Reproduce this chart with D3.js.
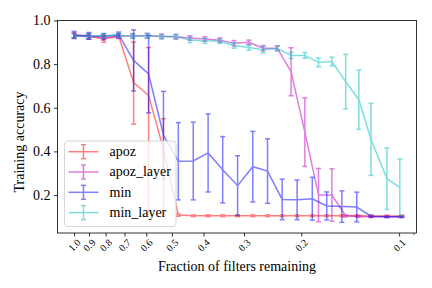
<!DOCTYPE html>
<html>
<head>
<meta charset="utf-8">
<script src="https://cdn.jsdelivr.net/npm/d3@7"></script>
<style>
  body { margin: 0; background: #fff; }
  svg { display: block; font-family: "Liberation Serif", "DejaVu Serif", serif; }
</style>
</head>
<body>
<div id="chart"></div>
<script>
// fraction of filters remaining (x positions)
const fractions = [1.0, 0.9, 0.81, 0.729, 0.656, 0.59, 0.531, 0.478, 0.43, 0.387, 0.349, 0.314,
    0.282, 0.254, 0.229, 0.206, 0.185, 0.167, 0.15, 0.135, 0.122, 0.109, 0.098];
const layerFractions = [1.0, 0.904, 0.813, 0.731, 0.66, 0.596, 0.538, 0.486, 0.44, 0.396, 0.356, 0.322,
    0.29, 0.262, 0.237, 0.215, 0.195, 0.177, 0.161, 0.146, 0.133, 0.122, 0.109, 0.0995];

const apoz = [0.93, 0.928, 0.915, 0.928, 0.715, 0.656, 0.41, 0.108, 0.105, 0.105, 0.105, 0.105,
    0.105, 0.105, 0.105, 0.105, 0.105, 0.105, 0.105, 0.105, 0.104, 0.104, 0.104];
const apozErrLow = [0.012, 0.012, 0.015, 0.01, 0.19, 0.546, 0.3, 0.005, 0.004, 0.004, 0.004, 0.004,
    0.004, 0.004, 0.004, 0.004, 0.004, 0.004, 0.004, 0.004, 0.004, 0.004, 0.004];
const apozErrHigh = [0.012, 0.012, 0.015, 0.01, 0.186, 0.22, 0.14, 0.005, 0.004, 0.004, 0.004, 0.004,
    0.004, 0.004, 0.004, 0.004, 0.004, 0.004, 0.004, 0.004, 0.004, 0.004, 0.004];

const apozLayer = [0.93, 0.925, 0.922, 0.928, 0.93, 0.93, 0.928, 0.925, 0.92, 0.915, 0.91, 0.896,
    0.9, 0.873, 0.873, 0.765, 0.488, 0.2, 0.2, 0.105, 0.102, 0.1, 0.1, 0.1];
const apozLayerErr = [0.012, 0.01, 0.012, 0.01, 0.01, 0.01, 0.01, 0.01, 0.01, 0.01, 0.01, 0.012,
    0.01, 0.012, 0.01, 0.11, 0.157, 0.122, 0.12, 0.005, 0.004, 0.003, 0.003, 0.003];

const minVals = [0.935, 0.93, 0.928, 0.935, 0.817, 0.755, 0.475, 0.355, 0.356, 0.393, 0.316, 0.243,
    0.33, 0.31, 0.18, 0.178, 0.183, 0.15, 0.147, 0.145, 0.103, 0.1, 0.1];
const minErr = [0.015, 0.015, 0.012, 0.012, 0.14, 0.178, 0.2, 0.177, 0.178, 0.179, 0.152, 0.137,
    0.162, 0.148, 0.093, 0.091, 0.098, 0.064, 0.072, 0.068, 0.004, 0.003, 0.003];

const minLayer = [0.928, 0.928, 0.93, 0.932, 0.928, 0.93, 0.925, 0.927, 0.911, 0.907, 0.905, 0.885,
    0.876, 0.866, 0.872, 0.84, 0.84, 0.808, 0.812, 0.72, 0.637, 0.455, 0.275, 0.235];
const minLayerErr = [0.01, 0.01, 0.01, 0.01, 0.01, 0.012, 0.01, 0.01, 0.012, 0.012, 0.01, 0.012,
    0.012, 0.015, 0.012, 0.014, 0.013, 0.02, 0.02, 0.125, 0.136, 0.165, 0.141, 0.13];

const xTicks = [1.0, 0.9, 0.8, 0.7, 0.6, 0.5, 0.4, 0.3, 0.2, 0.1];
const xMinorTicks = [0.09];
const yTicks = [0.2, 0.4, 0.6, 0.8, 1.0];

const series = [
    { name: "apoz", color: "#ff0000", x: fractions, y: apoz, lo: apozErrLow, hi: apozErrHigh },
    { name: "apoz_layer", color: "#bf00bf", x: layerFractions, y: apozLayer, lo: apozLayerErr, hi: apozLayerErr },
    { name: "min", color: "#0000ff", x: fractions, y: minVals, lo: minErr, hi: minErr },
    { name: "min_layer", color: "#00bfbf", x: layerFractions, y: minLayer, lo: minLayerErr, hi: minLayerErr },
];

const width = 432;
const height = 288;
const area = { left: 57.5, right: 416.5, top: 20.5, bottom: 233 };

const svg = d3.select("#chart")
    .append("svg")
    .attr("width", width)
    .attr("height", height);

const xScale = d3.scaleLog()
    .domain([1.125, 0.0884])
    .range([area.left, area.right]);

const yScale = d3.scaleLinear()
    .domain([0.026, 1.0])
    .range([area.bottom, area.top]);

svg.append("clipPath")
    .attr("id", "plot-clip")
    .append("rect")
    .attr("x", area.left)
    .attr("y", area.top)
    .attr("width", area.right - area.left)
    .attr("height", area.bottom - area.top);

const plot = svg.append("g").attr("clip-path", "url(#plot-clip)");
const cap = 2.5;

series.forEach((s) => {
    const pts = s.y.map((v, i) => ({ x: s.x[i], y: v, lo: v - s.lo[i], hi: v + s.hi[i] }));
    const g = plot.append("g").attr("opacity", 0.5);

    const line = d3.line()
        .x((d) => xScale(d.x))
        .y((d) => yScale(d.y));

    g.append("path")
        .datum(pts)
        .attr("d", line)
        .attr("fill", "none")
        .attr("stroke", s.color)
        .attr("stroke-width", 1.5);

    const bars = g.selectAll(".bar")
        .data(pts)
        .join("g")
        .attr("stroke", s.color)
        .attr("stroke-width", 1.5);

    bars.append("line")
        .attr("x1", (d) => xScale(d.x))
        .attr("x2", (d) => xScale(d.x))
        .attr("y1", (d) => yScale(d.lo))
        .attr("y2", (d) => yScale(d.hi));

    bars.append("line")
        .attr("x1", (d) => xScale(d.x) - cap)
        .attr("x2", (d) => xScale(d.x) + cap)
        .attr("y1", (d) => yScale(d.lo))
        .attr("y2", (d) => yScale(d.lo));

    bars.append("line")
        .attr("x1", (d) => xScale(d.x) - cap)
        .attr("x2", (d) => xScale(d.x) + cap)
        .attr("y1", (d) => yScale(d.hi))
        .attr("y2", (d) => yScale(d.hi));
});

// Y axis
const yAxis = svg.append("g")
    .attr("transform", `translate(${area.left}, 0)`)
    .call(d3.axisLeft(yScale).tickValues(yTicks).tickFormat(d3.format(".1f")).tickSize(3.5).tickPadding(3.5));
yAxis.select(".domain").remove();
yAxis.selectAll("text").attr("font-size", 14).attr("font-family", "Liberation Serif").attr("fill", "#000");
yAxis.selectAll("line").attr("stroke-width", 0.8);

// X axis
const xAxis = svg.append("g")
    .attr("transform", `translate(0, ${area.bottom})`)
    .call(d3.axisBottom(xScale).tickValues(xTicks).tickFormat(d3.format(".1f")).tickSize(3.5));
xAxis.select(".domain").remove();
xAxis.selectAll("line").attr("stroke-width", 0.8);
xAxis.selectAll("text")
    .attr("font-size", 10)
    .attr("font-family", "Liberation Serif")
    .attr("fill", "#000")
    .attr("y", 0)
    .attr("dy", "0.32em")
    .attr("text-anchor", "middle")
    .attr("transform", function () {
        const len = this.getComputedTextLength();
        const off = 5.5 + (len + 7) * 0.7071 / 2;
        return `translate(0, ${off}) rotate(-45)`;
    });

svg.append("g")
    .selectAll("line")
    .data(xMinorTicks)
    .join("line")
    .attr("x1", (d) => xScale(d))
    .attr("x2", (d) => xScale(d))
    .attr("y1", area.bottom)
    .attr("y2", area.bottom + 2)
    .attr("stroke", "#000")
    .attr("stroke-width", 0.6);

// Frame
svg.append("rect")
    .attr("x", area.left)
    .attr("y", area.top)
    .attr("width", area.right - area.left)
    .attr("height", area.bottom - area.top)
    .attr("fill", "none")
    .attr("stroke", "#000")
    .attr("stroke-width", 0.8);

// Axis labels
svg.append("text")
    .attr("x", (area.left + area.right) / 2)
    .attr("y", 271)
    .attr("text-anchor", "middle")
    .attr("font-size", 14)
    .text("Fraction of filters remaining");

svg.append("text")
    .attr("transform", `translate(24, 142) rotate(-90)`)
    .attr("text-anchor", "middle")
    .attr("font-size", 14)
    .text("Training accuracy");

// Legend
const legend = svg.append("g");
legend.append("rect")
    .attr("x", 64.5)
    .attr("y", 141)
    .attr("width", 111.5)
    .attr("height", 85.5)
    .attr("rx", 3)
    .attr("fill", "#fff")
    .attr("fill-opacity", 0.8)
    .attr("stroke", "#cccccc")
    .attr("stroke-width", 0.8);

const rows = legend.selectAll(".row")
    .data(series)
    .join("g")
    .attr("transform", (d, i) => `translate(0, ${151.7 + i * 20.3})`);

const handle = rows.append("g")
    .attr("opacity", 0.5)
    .attr("stroke", (d) => d.color)
    .attr("stroke-width", 1.5);
handle.append("line").attr("x1", 68.5).attr("x2", 98.5).attr("y1", 0).attr("y2", 0);
handle.append("line").attr("x1", 83.5).attr("x2", 83.5).attr("y1", -7).attr("y2", 7);
handle.append("line").attr("x1", 83.5 - cap).attr("x2", 83.5 + cap).attr("y1", -7).attr("y2", -7);
handle.append("line").attr("x1", 83.5 - cap).attr("x2", 83.5 + cap).attr("y1", 7).attr("y2", 7);

rows.append("text")
    .attr("x", 109.5)
    .attr("y", 0)
    .attr("dy", "0.3em")
    .attr("font-size", 14)
    .text((d) => d.name);
</script>
</body>
</html>
